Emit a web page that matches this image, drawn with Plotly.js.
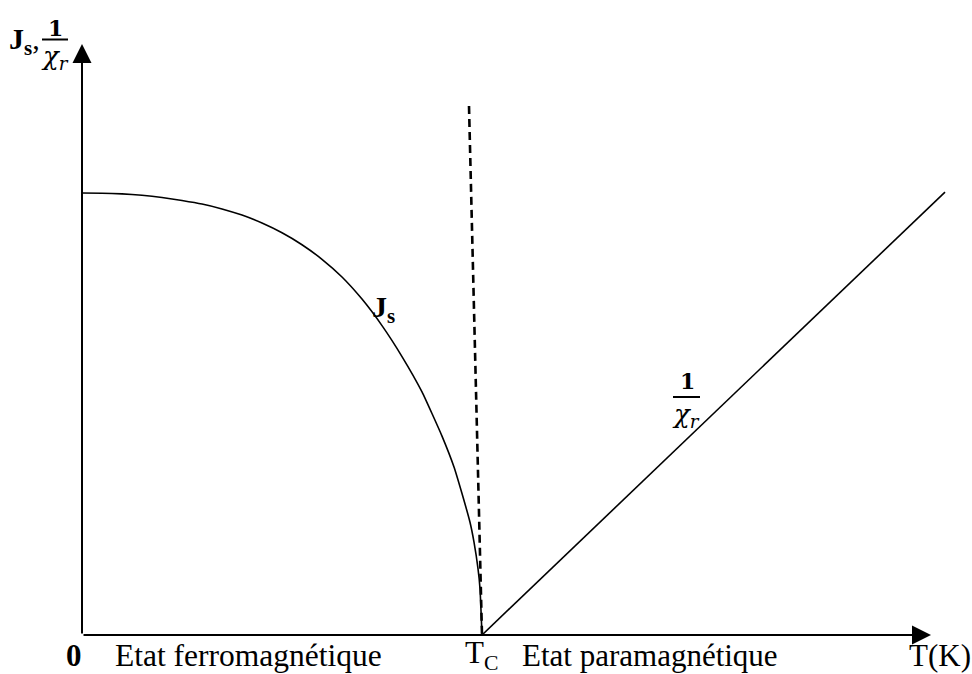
<!DOCTYPE html>
<html>
<head>
<meta charset="utf-8">
<script src="https://cdn.plot.ly/plotly-3.0.1.min.js"></script>
<style>
  html, body { margin: 0; padding: 0; background: #ffffff; }
  #chart { width: 972px; height: 674px; }
</style>
</head>
<body>
<div id="chart"></div>
<script>
// Reduced temperature T/Tc for the ferromagnetic branch and the spontaneous magnetisation Js (normalised)
const tFerro = [0, 0.05, 0.1, 0.15, 0.2, 0.25, 0.3, 0.35, 0.4, 0.45, 0.5, 0.55, 0.6, 0.65, 0.7, 0.75, 0.8, 0.85, 0.9, 0.93, 0.95, 0.97, 0.98, 0.99, 0.995, 1.0];
const jsValues = [1.0, 0.9995, 0.998, 0.995, 0.99, 0.983, 0.975, 0.964, 0.95, 0.932, 0.91, 0.883, 0.85, 0.81, 0.76, 0.70, 0.63, 0.55, 0.45, 0.38, 0.32, 0.255, 0.21, 0.15, 0.105, 0];

// Dashed steep line meeting the axis at Tc
const tDashed = [0.9675, 1.0];
const yDashed = [1.197, 0];

// Inverse susceptibility 1/chi_r above Tc (Curie-Weiss straight line)
const tPara = [1.0, 2.1575];
const invChi = [0, 1.002];

// Axis extents (end of the arrows)
const xAxisEnd = 2.1225;
const yAxisEnd = 1.337;

// Plot geometry: 400 px per unit of T/Tc, 442 px per unit of Js
const L = 82, R = 12, T = 20, B = 39;
const W = 972, H = 674;
const pxPerX = 400, pxPerY = 442;
const xRange = [0, (W - L - R) / pxPerX];
const yRange = [0, (H - T - B) / pxPerY];
const PX = px => (px - L) / (W - L - R);
const PY = py => (H - B - py) / (H - T - B);

const serif = 'Liberation Serif, Times New Roman, serif';
const mathSerif = 'DejaVu Serif, Liberation Serif, serif';

const traces = [
  {
    x: tFerro, y: jsValues, type: 'scatter', mode: 'lines',
    line: { color: '#000', width: 1.6, shape: 'spline', smoothing: 0.4 },
    hoverinfo: 'skip'
  },
  {
    x: tDashed, y: yDashed, type: 'scatter', mode: 'lines',
    line: { color: '#000', width: 2.6, dash: '8px,5px' },
    hoverinfo: 'skip'
  },
  {
    x: tPara, y: invChi, type: 'scatter', mode: 'lines',
    line: { color: '#000', width: 1.6 },
    hoverinfo: 'skip'
  }
];

const arrowStyle = {
  xref: 'x', yref: 'y', axref: 'x', ayref: 'y', text: '',
  showarrow: true, arrowhead: 2, arrowsize: 1.9, arrowwidth: 2, arrowcolor: '#000'
};

const txt = (text, px, py, size, anchor, family) => ({
  xref: 'paper', yref: 'paper', x: PX(px), y: PY(py), text: text, showarrow: false,
  xanchor: anchor || 'left', yanchor: 'middle',
  font: { family: family || serif, size: size, color: '#000' }
});

const annotations = [
  Object.assign({}, arrowStyle, { x: xAxisEnd, y: 0, ax: 0, ay: 0 }),
  Object.assign({}, arrowStyle, { x: 0, y: yAxisEnd, ax: 0, ay: 0 }),
  // bottom labels
  txt('<b>0</b>', 74, 655, 31, 'center'),
  txt('Etat ferromagnétique', 113, 655, 31.5, 'left'),
  txt('T<sub>C</sub>', 463, 655, 31, 'left'),
  txt('Etat paramagnétique', 520, 655, 31, 'left'),
  txt('T(K)', 907, 655, 31, 'left'),
  // y-axis label  Js, 1/chi_r
  txt('<b>J<sub>s</sub></b>,', 7, 41, 30, 'left'),
  txt('<b>1</b>', 55, 28, 22, 'center', mathSerif),
  txt('<i>χ<sub>r</sub></i>', 55, 57, 26, 'center', mathSerif),
  // curve labels
  txt('<b>J<sub>s</sub></b>', 370, 309, 30, 'left'),
  txt('<b>1</b>', 687, 381, 22, 'center', mathSerif),
  txt('<i>χ<sub>r</sub></i>', 686, 415, 26, 'center', mathSerif)
];

// fraction bars of the two 1/chi_r labels
const shapes = [
  { type: 'line', xref: 'paper', yref: 'paper', x0: PX(42), x1: PX(68), y0: PY(39.5), y1: PY(39.5),
    line: { color: '#000', width: 2 } },
  { type: 'line', xref: 'paper', yref: 'paper', x0: PX(673), x1: PX(700), y0: PY(397), y1: PY(397),
    line: { color: '#000', width: 2 } }
];

const layout = {
  width: W, height: H, autosize: false,
  margin: { l: L, r: R, t: T, b: B, pad: 0 },
  paper_bgcolor: '#fff', plot_bgcolor: '#fff',
  showlegend: false,
  xaxis: { range: xRange, visible: false, fixedrange: true },
  yaxis: { range: yRange, visible: false, fixedrange: true },
  annotations: annotations,
  shapes: shapes
};

Plotly.newPlot('chart', traces, layout, { staticPlot: true, displayModeBar: false });
</script>
</body>
</html>
